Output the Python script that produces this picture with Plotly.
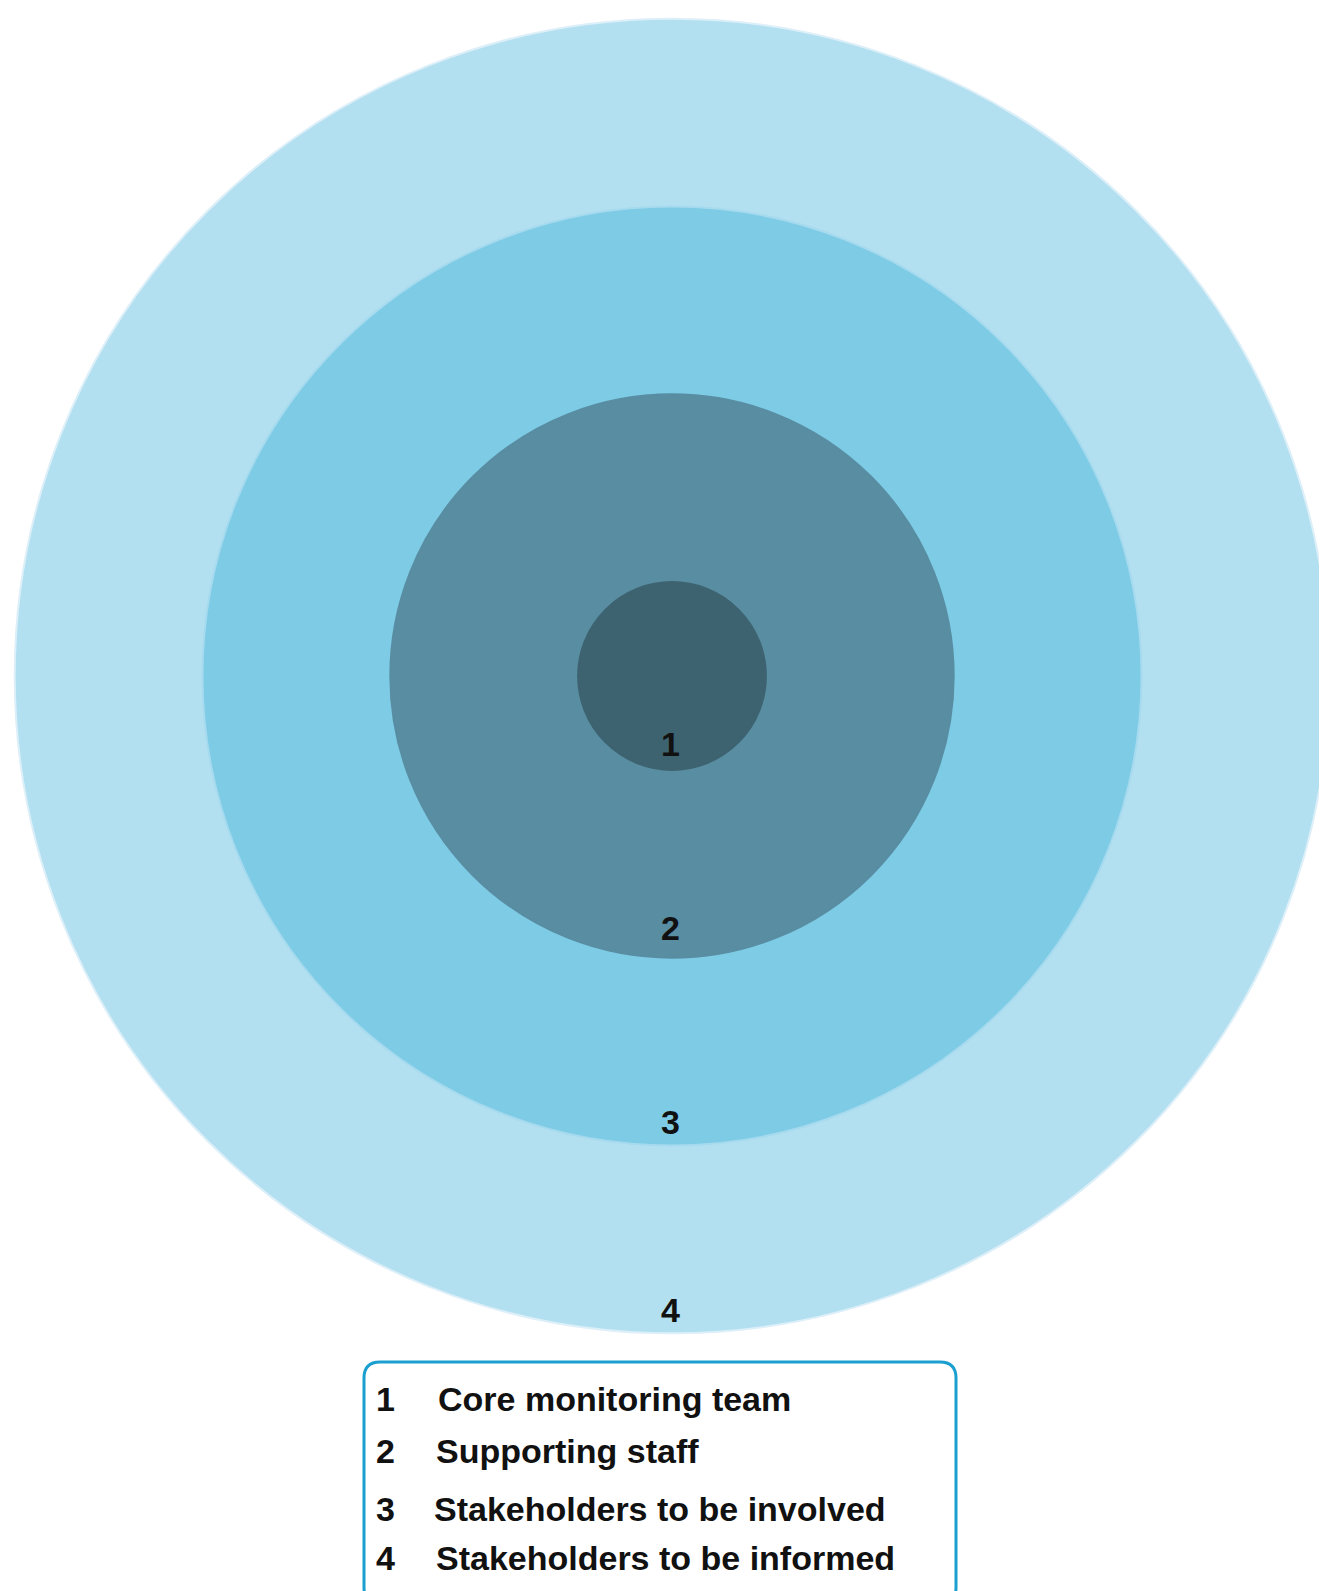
import plotly.graph_objects as go

# ---- data ----
levels = [1, 2, 3, 4]
radii = [1, 3, 5, 7]            # relative ring radii
label_offsets = [0.28, 0.32, 0.25, 0.25]  # how far inside ring edge the number sits (units)
fill_colors = ["#3E6370", "#588DA2", "#7ECBE6", "#B3E0F0"]
edge_colors = ["#3E6370", "#588DA2", "#A6DAEE", "#DDEFF8"]
legend_names = [
    "Core monitoring team",
    "Supporting staff",
    "Stakeholders to be involved",
    "Stakeholders to be informed",
]

# ---- layout geometry (pixels) ----
W, H = 1327, 1591
CX, CY = 664, 668
U = 93.9  # pixels per radius unit

def px(x):
    return (x - CX) / U

def py(y):
    return (CY - y) / U

FONT = "Liberation Sans, Arial, Helvetica, sans-serif"

fig = go.Figure()
shapes = []
for r, fc, ec in sorted(zip(radii, fill_colors, edge_colors), key=lambda t: -t[0]):
    shapes.append(dict(type="circle", xref="x", yref="y",
                       x0=-r, x1=r, y0=-r, y1=r,
                       fillcolor=fc, line=dict(color=ec, width=2), layer="below"))

# legend box (rounded rectangle)
bx0, bx1, by0, by1, rad = 364, 956, 1363, 1605, 16
bx0 -= 8; bx1 -= 8; by0 -= 9; by1 -= 9
path = (f"M {px(bx0+rad)},{py(by0)} L {px(bx1-rad)},{py(by0)} "
        f"Q {px(bx1)},{py(by0)} {px(bx1)},{py(by0+rad)} "
        f"L {px(bx1)},{py(by1-rad)} Q {px(bx1)},{py(by1)} {px(bx1-rad)},{py(by1)} "
        f"L {px(bx0+rad)},{py(by1)} Q {px(bx0)},{py(by1)} {px(bx0)},{py(by1-rad)} "
        f"L {px(bx0)},{py(by0+rad)} Q {px(bx0)},{py(by0)} {px(bx0+rad)},{py(by0)} Z")
shapes.append(dict(type="path", xref="x", yref="y", path=path,
                   fillcolor="white", line=dict(color="#1B9FD0", width=3)))

annotations = []
for lv, r, off in zip(levels, radii, label_offsets):
    annotations.append(dict(x=0 - 0.02, y=-(r - off), xref="x", yref="y",
                            text=f"<b>{lv}</b>", showarrow=False,
                            font=dict(family=FONT, size=34, color="#111111"),
                            xanchor="center", yanchor="middle"))

row_y = [1391, 1443, 1501, 1550]
text_x = [428, 426, 424, 426]
for lv, name, yy, tx in zip(levels, legend_names, row_y, text_x):
    annotations.append(dict(x=px(366), y=py(yy), xref="x", yref="y",
                            text=f"<b>{lv}</b>", showarrow=False,
                            font=dict(family=FONT, size=34, color="#111111"),
                            xanchor="left", yanchor="middle"))
    annotations.append(dict(x=px(tx), y=py(yy), xref="x", yref="y",
                            text=f"<b>{name}</b>", showarrow=False,
                            font=dict(family=FONT, size=34, color="#111111"),
                            xanchor="left", yanchor="middle"))

fig.add_trace(go.Scatter(x=[0], y=[0], mode="markers",
                         marker=dict(opacity=0), hoverinfo="skip", showlegend=False))

fig.update_layout(
    width=W, height=H,
    margin=dict(l=0, r=0, t=0, b=0),
    paper_bgcolor="white", plot_bgcolor="white",
    shapes=shapes, annotations=annotations,
    showlegend=False,
    xaxis=dict(range=[px(0), px(W)], visible=False, fixedrange=True),
    yaxis=dict(range=[py(H), py(0)], visible=False, fixedrange=True),
)

fig.write_html("out.html", config={"displayModeBar": False})
